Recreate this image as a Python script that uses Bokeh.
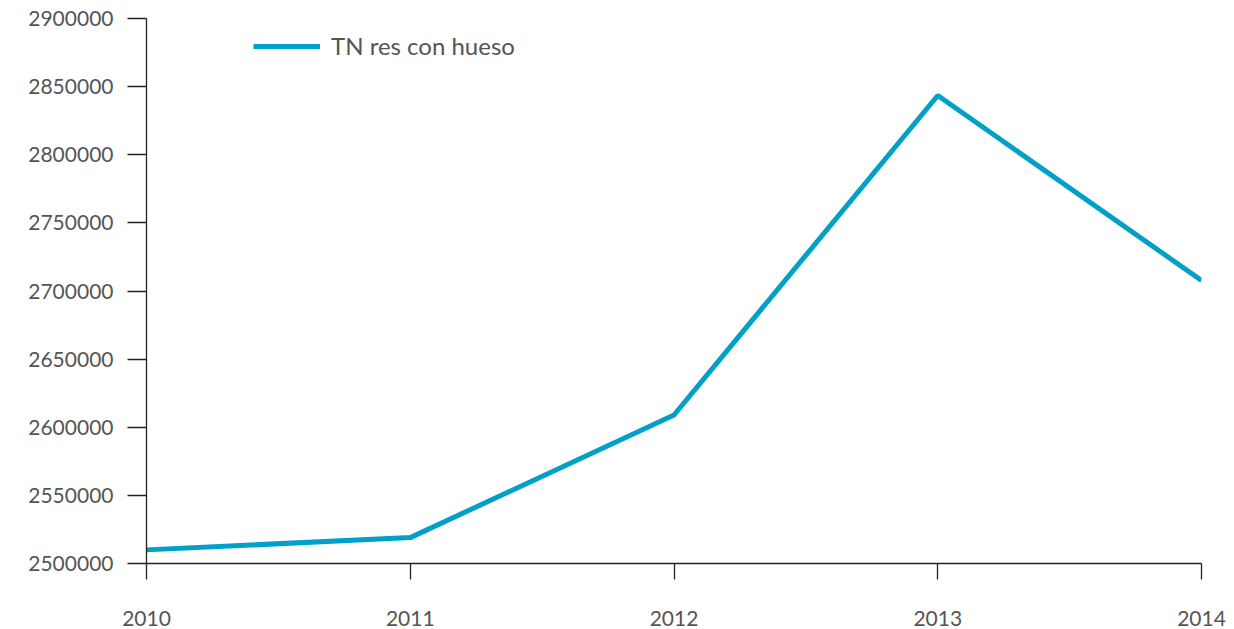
from bokeh.plotting import figure
from bokeh.models import Legend, LegendItem, FixedTicker, Range1d
from bokeh.embed import file_html
from bokeh.resources import INLINE

years = [2010, 2011, 2012, 2013, 2014]
tn_res_con_hueso = [2510000, 2519000, 2609000, 2843500, 2707700]
y_ticks = [2500000, 2550000, 2600000, 2650000, 2700000, 2750000, 2800000, 2850000, 2900000]
series_name = "TN res con hueso"

FONT = "Lato"
LABEL_COLOR = "#555555"

p = figure(width=1226, height=629, output_backend="svg", toolbar_location=None,
           x_range=Range1d(2010, 2014), y_range=Range1d(2500000, 2900000),
           min_border_left=146, min_border_right=25, min_border_top=18, min_border_bottom=66)
p.outline_line_color = None
p.grid.grid_line_color = None
p.background_fill_color = "white"
p.border_fill_color = "white"

r = p.line(years, tn_res_con_hueso, line_color="#00a0c8", line_width=5)

p.xaxis.ticker = FixedTicker(ticks=years)
p.yaxis.ticker = FixedTicker(ticks=y_ticks)
p.yaxis.formatter.use_scientific = False

for ax in (p.xaxis, p.yaxis):
    ax.axis_line_color = "#222222"
    ax.axis_line_width = 1.3
    ax.major_tick_line_color = "#222222"
    ax.major_tick_line_width = 1.3
    ax.major_tick_in = 0
    ax.minor_tick_line_color = None
    ax.major_label_text_font = FONT
    ax.major_label_text_font_size = "21px"
    ax.major_label_text_color = LABEL_COLOR

p.xaxis.major_tick_out = 16
p.xaxis.major_label_standoff = 31
p.yaxis.major_tick_out = 19
p.yaxis.major_label_standoff = 14

legend = Legend(items=[LegendItem(label=series_name, renderers=[r])],
                location=(107, 503), glyph_width=67, glyph_height=20, label_height=20,
                label_standoff=11, padding=0, margin=0, border_line_color=None,
                background_fill_alpha=0, label_text_font=FONT,
                label_text_font_size="24px", label_text_color=LABEL_COLOR)
p.add_layout(legend)

open("out.html", "w").write(file_html(p, INLINE))
